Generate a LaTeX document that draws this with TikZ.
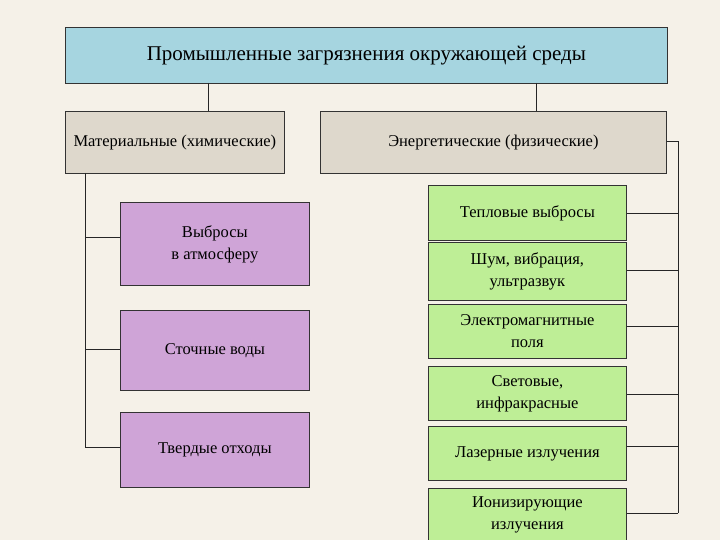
\documentclass[tikz,border=0pt]{standalone}
\usepackage{fontspec}
\setmainfont{Liberation Serif}
\begin{document}
\begin{tikzpicture}[x=1pt,y=-1pt,
  box/.style={draw=black!80,line width=0.8pt,anchor=north west,align=center,inner sep=0pt,font=\fontsize{16.5}{22}\selectfont},
  ln/.style={line width=0.8pt,black!85}]
\definecolor{bg}{RGB}{245,241,232}
\definecolor{topc}{RGB}{166,213,224}
\definecolor{beige}{RGB}{222,216,204}
\definecolor{purp}{RGB}{207,164,215}
\definecolor{grn}{RGB}{190,238,150}
\fill[bg] (0,0) rectangle (720,540);
\useasboundingbox (0,0) rectangle (720,540);
\node[box,fill=topc,minimum width=602pt,minimum height=56pt,font=\fontsize{21}{24}\selectfont] (top) at (65,27) {Промышленные загрязнения окружающей среды};
\node[box,fill=beige,minimum width=219pt,minimum height=62pt] (mat) at (65,111) {Материальные (химические)};
\node[box,fill=beige,minimum width=346pt,minimum height=62pt] (en) at (320,111) {Энергетические (физические)};
\draw[ln] (208,83) -- (208,111);
\draw[ln] (536,83) -- (536,111);
\tikzset{pb/.style={box,fill=purp,minimum width=189pt}, gb/.style={box,fill=grn,minimum width=198pt}}
\node[pb,minimum height=83pt] (p1) at (120,202) {Выбросы\\в атмосферу};
\node[pb,minimum height=80pt] (p2) at (120,310) {Сточные воды};
\node[pb,minimum height=75pt] (p3) at (120,412) {Твердые отходы};
\draw[ln] (85,173) -- (85,447);
\foreach \y/\n in {237/p1,349/p2,447/p3} \draw[ln] (85,\y) -- (\n.west |- 0,\y);
\node[gb,minimum height=55pt] (g1) at (428,185) {Тепловые выбросы};
\node[gb,minimum height=58pt] (g2) at (428,242) {Шум, вибрация,\\ультразвук};
\node[gb,minimum height=54pt] (g3) at (428,304) {Электромагнитные\\поля};
\node[gb,minimum height=54pt] (g4) at (428,366) {Световые,\\инфракрасные};
\node[gb,minimum height=54pt] (g5) at (428,426) {Лазерные излучения};
\node[gb,minimum height=52pt] (g6) at (428,488) {Ионизирующие\\излучения};
\draw[ln] (en.east |- 0,141) -- (678,141) -- (678,513);
\foreach \y/\n in {213/g1,270/g2,326/g3,394/g4,446/g5,513/g6} \draw[ln] (678,\y) -- (\n.east |- 0,\y);
\end{tikzpicture}
\end{document}
